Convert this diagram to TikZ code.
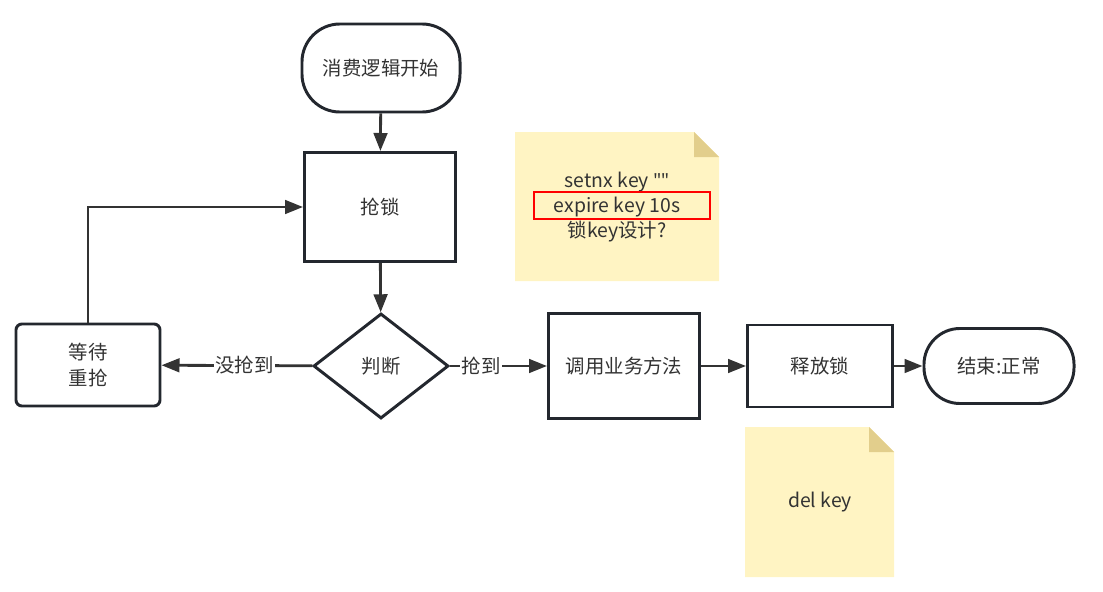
\documentclass[tikz,border=0pt]{standalone}
\usepackage{fontspec}
\setmainfont{Noto Sans CJK SC}
\newfontfamily\quotefont{Noto Sans}
\usepackage{tikz}
\usetikzlibrary{shapes.geometric,arrows.meta}

\begin{document}
\begin{tikzpicture}[x=0.025cm,y=-0.025cm]
\definecolor{linegray}{RGB}{35,39,46}
\definecolor{arrowgray}{RGB}{51,51,51}
\definecolor{textgray}{RGB}{51,51,51}
\definecolor{notefill}{RGB}{255,244,195}
\definecolor{notefold}{RGB}{226,206,140}
\tikzstyle{box} = [draw=linegray, line width=2.1pt, text=textgray, align=center, font=\fontsize{13.8}{18}\selectfont, inner sep=2pt]
\tikzstyle{term} = [box, rounded corners=0.95cm]
\tikzstyle{flow} = [draw=arrowgray, line width=2pt, -{Triangle[length=0.45cm,width=0.34cm]}]
\tikzstyle{lbl} = [fill=white, text=textgray, inner sep=1pt, font=\fontsize{13.8}{18}\selectfont]

\useasboundingbox (0,0) rectangle (1103,591);

% notes
\fill[notefill] (515,132) -- (694,132) -- (719,157) -- (719,281) -- (515,281) -- cycle;
\fill[notefold] (694,132) -- (719,157) -- (694,157) -- cycle;
\fill[notefill] (745,427) -- (869,427) -- (894,452) -- (894,577) -- (745,577) -- cycle;
\fill[notefold] (869,427) -- (894,452) -- (869,452) -- cycle;

\node[lbl, fill=none] (n1) at (617,182) {setnx key {\quotefont\char34\char34}};
\node[lbl, fill=none] (n2) at (617,207) {expire key 10s};
\node[lbl, fill=none] (n3) at (617,232) {锁key设计?};
\draw[red, line width=2.1pt] (534,192) rectangle (710,219);
\node[lbl, fill=none] (n4) at (820,502) {del key};

% flow
\node[term, minimum width=3.95cm, minimum height=2.2cm] (start) at (381,68) {消费逻辑开始};
\node[box, minimum width=3.775cm, minimum height=2.725cm] (lock) at (380,207) {抢锁};
\node[box, diamond, minimum width=3.375cm, minimum height=2.625cm, inner sep=0pt] (check) at (381,366) {判断};
\node[box, rounded corners=0.15cm, minimum width=3.6cm, minimum height=2.05cm] (wait) at (88,365) {等待\\重抢};
\node[box, minimum width=3.775cm, minimum height=2.625cm] (call) at (624,366) {调用业务方法};
\node[box, minimum width=3.625cm, minimum height=2.05cm] (release) at (820,366) {释放锁};
\node[term, minimum width=3.75cm, minimum height=1.875cm, rounded corners=0.9cm] (end) at (999,366) {结束:正常};

\draw[flow] (start) -- (lock);
\draw[flow] (lock) -- (check);
\draw[flow] (check) -- (wait) node[lbl, pos=0.45] {没抢到};
\draw[flow] (check) -- (call) node[lbl, pos=0.32] {抢到};
\draw[flow] (call) -- (release);
\draw[flow] (release) -- (end);
\draw[flow] (wait.north) |- (lock.west);

\end{tikzpicture}
\end{document}
